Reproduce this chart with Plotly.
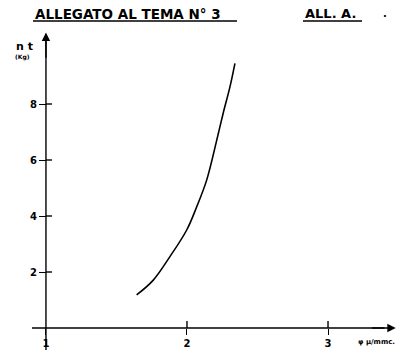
import plotly.graph_objects as go

# Curve data
x_vals = [1.643, 1.761, 1.879, 1.998, 2.069, 2.140, 2.211, 2.257, 2.305, 2.340]
y_vals = [1.18, 1.71, 2.55, 3.50, 4.33, 5.29, 6.71, 7.68, 8.62, 9.45]

x_ticks = [1, 2, 3]
x_ticktext = ["1", "2", "3"]
y_ticks = [2, 4, 6, 8]
y_ticktext = ["2", "4", "6", "8"]

title_text = "ALLEGATO AL TEMA N° 3"
title_right = "ALL. A."
y_label = "n t"
y_unit = "(Kg)"
x_label = "φ μ/mmc."

W, H = 398, 353
L, R, T, B = 32, 2, 33, 3
PW, PH = W - L - R, H - T - B
X0, X1 = 0.901, 3.482
Y0, Y1 = -0.786, 10.536
FONT = "DejaVu Sans"

fig = go.Figure()
fig.add_trace(go.Scatter(x=x_vals, y=y_vals, mode="lines",
                         line=dict(color="black", width=1.6, shape="spline"),
                         showlegend=False, hoverinfo="skip"))

ypos_x = (1 - X0) / (X1 - X0)
xpos_y = (0 - Y0) / (Y1 - Y0)

tickfont = dict(size=10, family=FONT, color="black", weight="bold")
fig.update_layout(
    width=W, height=H,
    margin=dict(l=L, r=R, t=T, b=B, autoexpand=False),
    paper_bgcolor="white", plot_bgcolor="white",
    font=dict(family=FONT, color="black"),
    xaxis=dict(range=[X0, X1], showgrid=False, zeroline=False, showline=False,
               automargin=False, fixedrange=True,
               tickvals=x_ticks, ticktext=x_ticktext, ticks="outside", ticklen=6,
               tickwidth=1.4, tickcolor="black", anchor="free", position=xpos_y,
               tickfont=tickfont),
    yaxis=dict(range=[Y0, Y1], showgrid=False, zeroline=False, showline=False,
               automargin=False, fixedrange=True,
               tickvals=y_ticks, ticktext=y_ticktext, ticks="outside", ticklen=7,
               tickwidth=1.4, tickcolor="black", anchor="free", position=ypos_x,
               tickfont=tickfont),
)


def fx(xp):
    return (xp - L) / PW


def fy(yp):
    return (H - B - yp) / PH


shapes = []
# crossing tick parts (inside halves)
for v in y_ticks:
    shapes.append(dict(type="line", xref="x", yref="y", x0=1, x1=1 + 6 / 141,
                       y0=v, y1=v, line=dict(color="black", width=1.4)))
for v in x_ticks[1:]:
    shapes.append(dict(type="line", xref="x", yref="y", x0=v, x1=v,
                       y0=0, y1=7 / 28, line=dict(color="black", width=1.4)))
# axis lines (data coords)
shapes.append(dict(type="line", xref="x", yref="y", x0=X0, x1=3.40, y0=0, y1=0,
                   line=dict(color="black", width=1.4)))
shapes.append(dict(type="line", xref="x", yref="y", x0=1, x1=1, y0=Y0, y1=10.3,
                   line=dict(color="black", width=1.4)))
# title underlines
for a, b in [(33, 237), (303, 362)]:
    shapes.append(dict(type="line", xref="paper", yref="paper",
                       x0=fx(a), x1=fx(b), y0=fy(21), y1=fy(21),
                       line=dict(color="black", width=1.6)))
fig.update_layout(shapes=shapes)


def px(xp, yp, text, size, xanchor="center"):
    return dict(x=fx(xp), y=fy(yp), xref="paper", yref="paper", text=text,
                showarrow=False,
                font=dict(size=size, family=FONT, color="black", weight="bold"),
                xanchor=xanchor, yanchor="middle")


annotations = [
    dict(x=1, y=10.55, xref="x", yref="y", ax=1, ay=9.6, axref="x", ayref="y",
         text="", showarrow=True, arrowhead=2, arrowsize=1.2, arrowwidth=1.4, arrowcolor="black"),
    dict(x=3.48, y=0, xref="x", yref="y", ax=3.30, ay=0, axref="x", ayref="y",
         text="", showarrow=True, arrowhead=2, arrowsize=1.2, arrowwidth=1.4, arrowcolor="black"),
    px(33, 14, title_text, 13.5, "left"),
    px(303, 14, title_right, 13, "left"),
    px(385, 14, ".", 10),
    px(24, 47, y_label, 11),
    px(22, 57, y_unit, 6),
    px(397, 342, x_label, 7, "right"),
]
fig.update_layout(annotations=annotations)

fig.write_html("out.html", config={"displayModeBar": False},
               post_script="document.body.style.margin='0';")
